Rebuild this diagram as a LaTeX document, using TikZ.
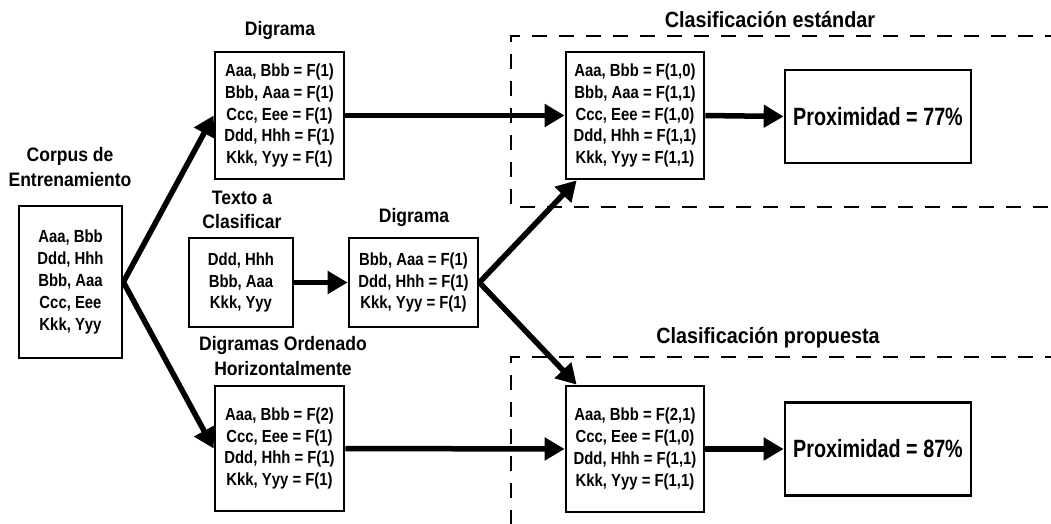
\documentclass[tikz,border=0pt]{standalone}
\usepackage{fontspec}
\setmainfont[FakeStretch=0.9]{Liberation Sans}
\newfontfamily\boxfont[FakeStretch=0.85]{Liberation Sans}
\newfontfamily\proxfont[FakeStretch=0.79]{Liberation Sans}
\usetikzlibrary{arrows.meta,calc}
\begin{document}
\begin{tikzpicture}[x=1pt,y=-1pt,
 box/.style={draw,line width=2.7pt,align=center,inner sep=0pt,font=\boxfont\bfseries\fontsize{17.5}{21.8}\selectfont},
 ttl/.style={align=center,inner sep=0pt,font=\bfseries\fontsize{19.5}{24.5}\selectfont},
 bigttl/.style={inner sep=0pt,font=\bfseries\fontsize{22}{26}\selectfont},
 prox/.style={draw,line width=2.7pt,inner sep=0pt,minimum width=186pt,minimum height=93pt,font=\proxfont\bfseries\fontsize{25}{29}\selectfont},
 arr/.style={line width=5.5pt,-{Triangle[length=20pt,width=22pt]}},
 region/.style={line width=2pt,dash pattern=on 15pt off 12pt}]
\clip (0,0) rectangle (1051,524);
\fill[white] (0,0) rectangle (1051,524);
% titles
\node[ttl] (tcorpus) at (70,167) {Corpus de\\Entrenamiento};
\node[ttl] (tdig1) at (280,31) {Digrama};
\node[ttl] (ttexto) at (242,210) {Texto a\\Clasificar};
\node[ttl] (tdig2) at (414,217) {Digrama};
\node[ttl] (tord) at (283,356) {Digramas Ordenado\\Horizontalmente};
\node[bigttl] (tstd) at (770,20) {Clasificación estándar};
\node[bigttl] (tprop) at (768,338) {Clasificación propuesta};
% dashed regions
\draw[region] (1060,36) -| (511,207) -- (1060,207);
\draw[region] (1060,357) -| (511,530);
% boxes
\node[box,minimum width=103pt,minimum height=152pt] (corpus) at (70.5,282)
 {Aaa, Bbb\\Ddd, Hhh\\Bbb, Aaa\\Ccc, Eee\\Kkk, Yyy};
\node[box,minimum width=129pt,minimum height=127pt] (dig1) at (279.5,115.5)
 {Aaa, Bbb = F(1)\\Bbb, Aaa = F(1)\\Ccc, Eee = F(1)\\Ddd, Hhh = F(1)\\Kkk, Yyy = F(1)};
\node[box,minimum width=104pt,minimum height=89pt] (texto) at (241,282.5)
 {Ddd, Hhh\\Bbb, Aaa\\Kkk, Yyy};
\node[box,minimum width=129pt,minimum height=89pt] (dig2) at (413.5,282.5)
 {Bbb, Aaa = F(1)\\Ddd, Hhh = F(1)\\Kkk, Yyy = F(1)};
\node[box,minimum width=129pt,minimum height=125pt] (ord) at (279.5,448.5)
 {Aaa, Bbb = F(2)\\Ccc, Eee = F(1)\\Ddd, Hhh = F(1)\\Kkk, Yyy = F(1)};
\node[box,minimum width=138pt,minimum height=127pt] (std) at (635,115.5)
 {Aaa, Bbb = F(1,0)\\Bbb, Aaa = F(1,1)\\Ccc, Eee = F(1,0)\\Ddd, Hhh = F(1,1)\\Kkk, Yyy = F(1,1)};
\node[box,minimum width=138pt,minimum height=126pt] (prop) at (635,449)
 {Aaa, Bbb = F(2,1)\\Ccc, Eee = F(1,0)\\Ddd, Hhh = F(1,1)\\Kkk, Yyy = F(1,1)};
\node[prox] (p77) at (878,116.5) {Proximidad = 77\%};
\node[prox] (p87) at (878,449) {Proximidad = 87\%};
% connectors
\draw[arr] (corpus.east) -- (dig1.west);
\draw[arr] (corpus.east) -- (ord.west);
\draw[arr] (texto.east) -- (dig2.west);
\draw[arr] (dig1.east) -- (std.west);
\draw[arr] (ord.east) -- (prop.west);
\draw[arr] (dig2.east) -- ($(std.south west)+(12,0)$);
\draw[arr] (dig2.east) -- ($(prop.north west)+(12,0)$);
\draw[arr] (std.east) -- (p77.west);
\draw[arr] (prop.east) -- (p87.west);
\end{tikzpicture}
\end{document}
